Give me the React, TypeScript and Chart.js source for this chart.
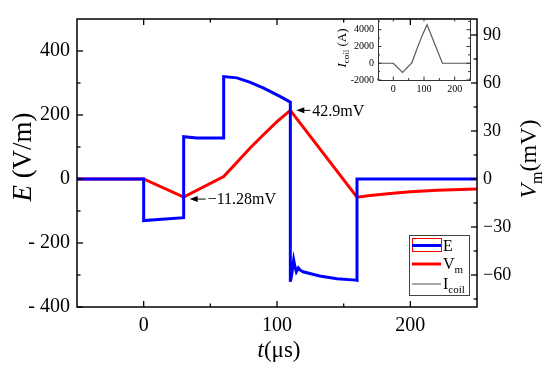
import React, { useEffect, useRef } from 'react';
import { Chart, registerables } from 'chart.js';
Chart.register(...registerables);

const SERIF = "'Liberation Serif', 'Times New Roman', serif";

// E field (V/m) vs time (µs)
const tE = [-50, 0, 0, 30, 30, 40, 60, 60, 70, 80, 90, 100, 105, 110, 110, 111, 112.5, 113.5, 114.5, 116, 117.5, 119.5, 132, 145, 159, 160, 160, 250];
const eVals = [0, 0, -130, -121, 132, 128, 128, 320, 316, 302, 284, 263, 252, 240, -321, -300, -253, -275, -290, -278, -285, -290, -303, -312, -316, -317, 0, 0];

// Membrane voltage (mV) vs time (µs)
const tV = [-50, 0, 30, 60, 70, 80, 90, 100, 110, 160, 170, 185, 200, 220, 250];
const vmVals = [0, 0, -11.28, 1.5, 10.5, 19.5, 27.8, 35.8, 42.9, -11.4, -10.3, -9.0, -8.0, -7.1, -6.3];

// Coil current (A) vs time (µs) - inset
const tI = [-50, 0, 30, 60, 70, 80, 90, 100, 110, 160, 250];
const iVals = [0, 0, -1100, 30, 1010, 2010, 2940, 3800, 4600, 0, 0];

// axes ticks
const xTicks = [0, 100, 200];
const xMinor = [50, 150];
const eTicks = [-400, -200, 0, 200, 400];
const eMinor = [-300, -100, 100, 300];
const vTicks = [-60, -30, 0, 30, 60, 90];
const vMinor = [-75, -45, -15, 15, 45, 75];
const insXTicks = [0, 100, 200];
const insXMinor = [-50, 50, 150, 250];
const insYTicks = [-2000, 0, 2000, 4000];
const insYMinor = [-1000, 1000, 3000, 5000];

// annotations
const annMin = { t: 30, v: -11.28, label: '\u221211.28mV' };
const annMax = { t: 110, v: 42.9, label: '42.9mV' };

type Part = { t: string; i?: boolean; sub?: boolean };

function drawRich(ctx: CanvasRenderingContext2D, parts: Part[], x: number, y: number, size: number, align: 'center' | 'left' = 'center') {
  const fontFor = (p: Part) => `${p.i ? 'italic ' : ''}${p.sub ? Math.round(size * 0.66) : size}px ${SERIF}`;
  let total = 0;
  parts.forEach((p) => { ctx.font = fontFor(p); total += ctx.measureText(p.t).width; });
  let cx = align === 'center' ? x - total / 2 : x;
  ctx.textBaseline = 'alphabetic';
  ctx.textAlign = 'left';
  parts.forEach((p) => {
    ctx.font = fontFor(p);
    ctx.fillText(p.t, cx, y + (p.sub ? size * 0.24 : 0));
    cx += ctx.measureText(p.t).width;
  });
}

function line(ctx: CanvasRenderingContext2D, x1: number, y1: number, x2: number, y2: number) {
  ctx.beginPath(); ctx.moveTo(x1, y1); ctx.lineTo(x2, y2); ctx.stroke();
}

function arrow(ctx: CanvasRenderingContext2D, hx: number, hy: number, tx: number) {
  ctx.strokeStyle = '#000'; ctx.fillStyle = '#000'; ctx.lineWidth = 1;
  line(ctx, hx + 5, hy, tx, hy);
  ctx.beginPath(); ctx.moveTo(hx, hy); ctx.lineTo(hx + 8, hy - 3); ctx.lineTo(hx + 8, hy + 3); ctx.closePath(); ctx.fill();
}

const mainDecor = {
  id: 'mainDecor',
  afterDraw(chart: any) {
    const { ctx, chartArea: a, scales } = chart;
    const x = scales.x, y = scales.y, y2 = scales.y2;
    ctx.save();
    ctx.strokeStyle = '#000';
    ctx.lineWidth = 1.5;
    ctx.strokeRect(a.left, a.top, a.right - a.left, a.bottom - a.top);
    ctx.lineWidth = 1.3;
    const maj = 6, mnr = 3.5;
    xTicks.forEach((v) => { const p = x.getPixelForValue(v); line(ctx, p, a.bottom, p, a.bottom - maj); line(ctx, p, a.top, p, a.top + maj); });
    xMinor.forEach((v) => { const p = x.getPixelForValue(v); line(ctx, p, a.bottom, p, a.bottom - mnr); line(ctx, p, a.top, p, a.top + mnr); });
    eTicks.forEach((v) => { const p = y.getPixelForValue(v); line(ctx, a.left, p, a.left + maj, p); });
    eMinor.forEach((v) => { const p = y.getPixelForValue(v); line(ctx, a.left, p, a.left + mnr, p); });
    vTicks.forEach((v) => { const p = y2.getPixelForValue(v); line(ctx, a.right, p, a.right - maj, p); });
    vMinor.forEach((v) => { const p = y2.getPixelForValue(v); line(ctx, a.right, p, a.right - mnr, p); });

    // axis titles
    ctx.fillStyle = '#000';
    ctx.save();
    ctx.translate(22, 157); ctx.rotate(-Math.PI / 2);
    drawRich(ctx, [{ t: 'E', i: true }, { t: ' (V/m)' }], 0, 9, 27);
    ctx.restore();
    drawRich(ctx, [{ t: 't', i: true }, { t: '(\u03bcs)' }], 279, 357, 23);
    ctx.save();
    ctx.translate(528, 159); ctx.rotate(-Math.PI / 2);
    drawRich(ctx, [{ t: 'V', i: true }, { t: 'm', sub: true }, { t: '(mV)' }], 0, 8, 24);
    ctx.restore();

    // annotations
    const h1x = x.getPixelForValue(annMin.t) + 6, h1y = y2.getPixelForValue(annMin.v) + 2;
    arrow(ctx, h1x, h1y, h1x + 16);
    ctx.fillStyle = '#000';
    ctx.font = `16px ${SERIF}`; ctx.textAlign = 'left'; ctx.textBaseline = 'middle';
    ctx.fillText(annMin.label, h1x + 18, h1y + 1);
    const h2x = x.getPixelForValue(annMax.t) + 6, h2y = y2.getPixelForValue(annMax.v);
    arrow(ctx, h2x, h2y, h2x + 14);
    ctx.fillStyle = '#000';
    ctx.font = `16px ${SERIF}`; ctx.textAlign = 'left'; ctx.textBaseline = 'middle';
    ctx.fillText(annMax.label, h2x + 16, h2y + 1);

    // legend
    const lx = 409.5, ly = 235.5, lw = 60, lh = 60;
    ctx.fillStyle = '#fff'; ctx.fillRect(lx, ly, lw, lh);
    ctx.strokeStyle = '#444'; ctx.lineWidth = 1; ctx.strokeRect(lx, ly, lw, lh);
    const sx1 = 412, sx2 = 441;
    ctx.strokeStyle = '#ff0000'; ctx.lineWidth = 1;
    ctx.strokeRect(sx1 + 0.5, 238.5, sx2 - sx1, 13);
    ctx.strokeStyle = '#0000ff'; ctx.lineWidth = 3; line(ctx, sx1, 245.5, sx2, 245.5);
    ctx.strokeStyle = '#ff0000'; ctx.lineWidth = 3; line(ctx, sx1, 264, sx2, 264);
    ctx.strokeStyle = '#555'; ctx.lineWidth = 1; line(ctx, sx1, 284, sx2, 284);
    ctx.fillStyle = '#000';
    drawRich(ctx, [{ t: 'E' }], 443, 251, 16, 'left');
    drawRich(ctx, [{ t: 'V' }, { t: 'm', sub: true }], 443, 269, 16, 'left');
    drawRich(ctx, [{ t: 'I' }, { t: 'coil', sub: true }], 443, 289, 16, 'left');
    ctx.restore();
  },
};

const insetDecor = {
  id: 'insetDecor',
  afterDraw(chart: any) {
    const { ctx, chartArea: a, scales } = chart;
    const x = scales.x, y = scales.y;
    ctx.save();
    ctx.strokeStyle = '#333';
    ctx.lineWidth = 1;
    ctx.strokeRect(a.left + 0.5, a.top + 0.5, a.right - a.left, a.bottom - a.top);
    const maj = 3.5, mnr = 2;
    insXTicks.forEach((v) => { const p = x.getPixelForValue(v); line(ctx, p, a.bottom, p, a.bottom - maj); line(ctx, p, a.top, p, a.top + maj); });
    insXMinor.forEach((v) => { const p = x.getPixelForValue(v); line(ctx, p, a.bottom, p, a.bottom - mnr); line(ctx, p, a.top, p, a.top + mnr); });
    insYTicks.forEach((v) => { const p = y.getPixelForValue(v); line(ctx, a.left, p, a.left + maj, p); line(ctx, a.right, p, a.right - maj, p); });
    insYMinor.forEach((v) => { const p = y.getPixelForValue(v); line(ctx, a.left, p, a.left + mnr, p); line(ctx, a.right, p, a.right - mnr, p); });
    ctx.fillStyle = '#000';
    ctx.save();
    ctx.translate(24, 40); ctx.rotate(-Math.PI / 2);
    drawRich(ctx, [{ t: 'I', i: true }, { t: 'coil', sub: true }, { t: ' (A)' }], 0, 4, 13);
    ctx.restore();
    ctx.restore();
  },
};

export default function App() {
  const mainRef = useRef<HTMLCanvasElement>(null);
  const insetRef = useRef<HTMLCanvasElement>(null);

  useEffect(() => {
    const tickFont = { family: SERIF, size: 20 };
    const main = new Chart(mainRef.current as HTMLCanvasElement, {
      type: 'line',
      data: {
        datasets: [
          {
            label: 'E',
            data: tE.map((t, i) => ({ x: t, y: eVals[i] })),
            borderColor: '#0000ff', borderWidth: 3, pointRadius: 0, tension: 0, yAxisID: 'y',
          },
          {
            label: 'Vm',
            data: tV.map((t, i) => ({ x: t, y: vmVals[i] })),
            borderColor: '#ff0000', borderWidth: 3, pointRadius: 0, tension: 0, yAxisID: 'y2',
          },
        ],
      },
      options: {
        animation: false,
        responsive: false,
        layout: { padding: { top: 10, left: 0, right: 0, bottom: 0 } },
        plugins: { legend: { display: false }, tooltip: { enabled: false } },
        scales: {
          x: {
            type: 'linear', position: 'bottom', min: -50, max: 250,
            grid: { display: false, drawTicks: false }, border: { display: false },
            ticks: { font: tickFont, color: '#000', padding: 7, autoSkip: false, maxRotation: 0, callback: (v: any) => String(v) },
            afterBuildTicks: (s: any) => { s.ticks = xTicks.map((v) => ({ value: v })); },
            afterFit: (s: any) => { s.height = 61; },
          },
          y: {
            type: 'linear', position: 'left', min: -400, max: 500,
            grid: { display: false, drawTicks: false }, border: { display: false },
            ticks: { font: tickFont, color: '#000', padding: 7, autoSkip: false, callback: (v: any) => (v < 0 ? '- ' + Math.abs(v) : String(v)) },
            afterBuildTicks: (s: any) => { s.ticks = eTicks.map((v) => ({ value: v })); },
            afterFit: (s: any) => { s.width = 77; },
          },
          y2: {
            type: 'linear', position: 'right', min: -80, max: 100,
            grid: { display: false, drawTicks: false }, border: { display: false },
            ticks: { font: { family: SERIF, size: 18 }, color: '#000', padding: 6, autoSkip: false, callback: (v: any) => (v < 0 ? '\u2212' + Math.abs(v) : String(v)) },
            afterBuildTicks: (s: any) => { s.ticks = vTicks.map((v) => ({ value: v })); },
            afterFit: (s: any) => { s.width = 73; },
          },
        },
      },
      plugins: [mainDecor],
    } as any);

    const insFont = { family: SERIF, size: 10 };
    const inset = new Chart(insetRef.current as HTMLCanvasElement, {
      type: 'line',
      data: {
        datasets: [
          {
            label: 'Icoil',
            data: tI.map((t, i) => ({ x: t, y: iVals[i] })),
            borderColor: '#555', borderWidth: 1.2, pointRadius: 0, tension: 0,
          },
        ],
      },
      options: {
        animation: false,
        responsive: false,
        layout: { padding: { top: 8, left: 0, right: 6, bottom: 0 } },
        plugins: { legend: { display: false }, tooltip: { enabled: false } },
        scales: {
          x: {
            type: 'linear', min: -50, max: 250,
            grid: { display: false, drawTicks: false }, border: { display: false },
            ticks: { font: insFont, color: '#000', padding: 3, autoSkip: false, maxRotation: 0, callback: (v: any) => String(v) },
            afterBuildTicks: (s: any) => { s.ticks = insXTicks.map((v) => ({ value: v })); },
            afterFit: (s: any) => { s.height = 18; },
          },
          y: {
            type: 'linear', min: -2000, max: 5400,
            grid: { display: false, drawTicks: false }, border: { display: false },
            ticks: { font: insFont, color: '#000', padding: 4, autoSkip: false, callback: (v: any) => String(v) },
            afterBuildTicks: (s: any) => { s.ticks = insYTicks.map((v) => ({ value: v })); },
            afterFit: (s: any) => { s.width = 60; },
          },
        },
      },
      plugins: [insetDecor],
    } as any);

    return () => { main.destroy(); inset.destroy(); };
  }, []);

  return (
    <div style={{ position: 'absolute', left: 0, top: 0, width: 550, height: 368, background: '#fff' }}>
      <canvas ref={mainRef} width={550} height={368} style={{ position: 'absolute', left: 0, top: 0, width: 550, height: 368 }} />
      <canvas ref={insetRef} width={158} height={90} style={{ position: 'absolute', left: 318, top: 8, width: 158, height: 90 }} />
    </div>
  );
}
